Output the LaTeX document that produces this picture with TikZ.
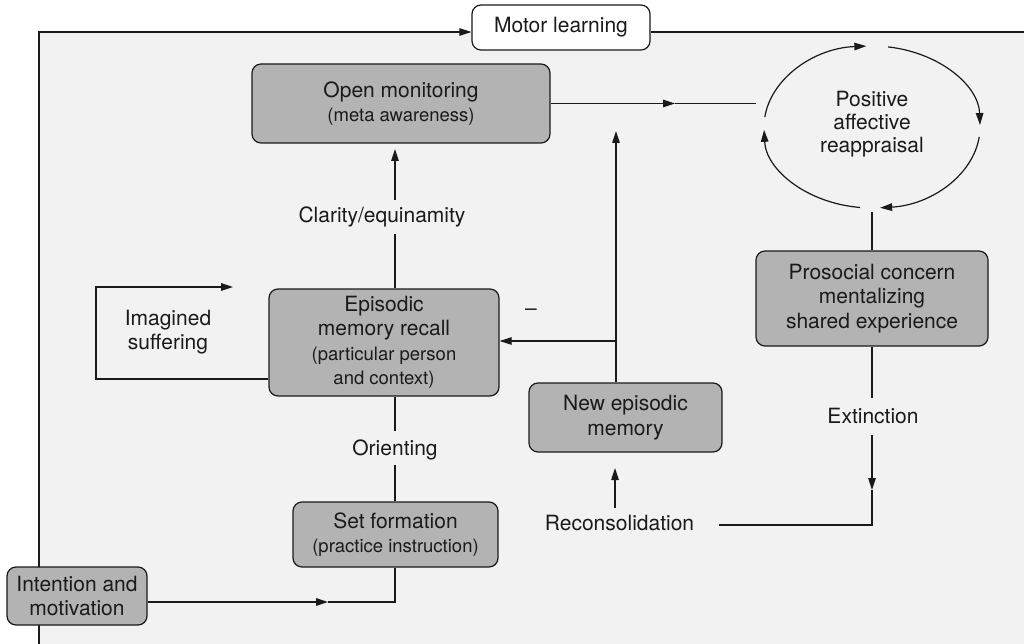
\documentclass[tikz,border=0pt]{standalone}
\usepackage{fontspec}
\setmainfont{TeX Gyre Heros}
\usetikzlibrary{arrows.meta,calc}
\definecolor{bggray}{HTML}{F2F2F2}
\definecolor{boxgray}{HTML}{B3B3B3}
\definecolor{ink}{HTML}{1A1A1A}
\newcommand\smalltxt{\fontsize{18.5}{22}\selectfont}
\tikzset{
  box/.style={draw=ink, line width=1.2pt, fill=boxgray, rounded corners=9pt,
    align=center, inner sep=0pt, text=ink, font=\fontsize{21}{24.5}\selectfont},
  lbl/.style={align=center, inner sep=0pt, text=ink, font=\fontsize{21}{24}\selectfont},
  conn/.style={draw=ink, line width=1.2pt},
  tip/.style={-{Triangle[length=12pt,width=7.5pt]}},
}
\begin{document}
\begin{tikzpicture}[x=1pt,y=-1pt]
\fill[white] (0,0) rectangle (1024,644);
\fill[bggray] (39,32) rectangle (1024,644);
\useasboundingbox (0,0) rectangle (1024,644);

% Motor learning and frame
\node[box, fill=white, minimum width=178pt, minimum height=45pt] (ml) at (561,27.5) {Motor learning};
\coordinate (tl) at (39,32);
\coordinate (bl) at (39,644);
\coordinate (tr) at (1024,32);
\draw[conn,tip] (bl) -- (tl) -- (tl -| ml.west);
\draw[conn] (ml.east |- tl) -- (tr);

% boxes
\node[box, minimum width=298pt, minimum height=79pt] (om) at (401,103.5)
  {Open monitoring\\{\smalltxt (meta awareness)}};
\node[box, minimum width=232pt, minimum height=95pt] (pr) at (872,298.5)
  {Prosocial concern\\mentalizing\\shared experience};
\node[box, minimum width=230pt, minimum height=107pt] (ep) at (384,342.5)
  {Episodic\\memory recall\\{\smalltxt (particular person}\\{\smalltxt and context)}};
\node[box, minimum width=193pt, minimum height=69pt] (ne) at (625.5,417.5)
  {New episodic\\memory};
\node[box, minimum width=205pt, minimum height=65pt] (sf) at (395.5,534.5)
  {Set formation\\{\smalltxt (practice instruction)}};
\node[box, minimum width=140pt, minimum height=58pt] (im) at (77,596)
  {Intention and\\motivation};

% labels
\node[lbl, font=\fontsize{21}{23}\selectfont] (par) at (872,124) {Positive\\affective\\reappraisal};
\node[lbl] (ims) at (168,332) {Imagined\\suffering};
\node[lbl] (cl) at (382,217) {Clarity/equinamity};
\node[lbl] (ori) at (395,450) {Orienting};
\node[lbl] (ext) at (873,416) {Extinction};
\node[lbl] (rec) at (619.5,523) {Reconsolidation};
\node[lbl] (neg) at (531,312) {–};

% open monitoring -> reappraisal
\coordinate (m1) at (675,103.5);
\coordinate (ein) at (756,103.5);
\draw[conn,tip] (om.east) -- (m1);
\draw[conn] (m1) -- (ein);

% reappraisal cycle
\coordinate (a1) at (764.8,117.1);
\coordinate (a2) at (888.0,46.9);
\coordinate (a3) at (979.2,136.9);
\coordinate (a4) at (860.0,207.5);
\draw[conn,tip] (a1) arc[start angle=173, end angle=93, x radius=108pt, y radius=81pt];
\draw[conn,tip] (a2) arc[start angle=81.5, end angle=1.4, x radius=108pt, y radius=81pt];
\draw[conn,tip] (a3) arc[start angle=-7, end angle=-85.7, x radius=108pt, y radius=81pt];
\draw[conn,tip] (a4) arc[start angle=-96.4, end angle=-178, x radius=108pt, y radius=81pt];

% reappraisal -> prosocial -> extinction -> reconsolidation
\coordinate (ebot) at (872,212);
\draw[conn] (ebot) -- (pr.north);
\coordinate (e1) at (872,398);
\coordinate (e2) at (872,435);
\coordinate (e3) at (872,490);
\coordinate (e4) at (872,525);
\coordinate (e5) at (719,525);
\draw[conn] (pr.south) -- (e1);
\draw[conn,tip] (e2) -- (e3);
\draw[conn] (e3) -- (e4) -- (e5);

% reconsolidation -> new episodic memory
\coordinate (r1) at (615,508);
\coordinate (r2) at (615,468);
\draw[conn,tip] (r1) -- (r2);

% new episodic memory -> up, and -> episodic recall
\coordinate (nx) at (616,0);
\coordinate (n2) at (616,131);
\coordinate (n3) at (616,341);
\draw[conn,tip] (ne.north -| nx) -- (n2);
\draw[conn,tip] (n3) -- (n3 -| ep.east);

% episodic recall -> open monitoring
\coordinate (vx) at (395,0);
\coordinate (c1) at (395,234);
\coordinate (c2) at (395,200);
\coordinate (c3) at (395,149);
\draw[conn] (ep.north -| vx) -- (c1);
\draw[conn,tip] (c2) -- (c3);

% orienting
\coordinate (o1) at (395,431);
\coordinate (o2) at (395,465);
\draw[conn] (ep.south -| vx) -- (o1);
\draw[conn] (o2) -- (sf.north -| vx);

% intention -> set formation
\coordinate (j1) at (395,602);
\coordinate (j2) at (328,602);
\draw[conn,tip] (im.east |- j1) -- (j2);
\draw[conn] (j2) -- (j1) -- (sf.south -| vx);

% imagined suffering loop
\coordinate (i1) at (96,379);
\coordinate (i2) at (96,287);
\coordinate (i3) at (233,287);
\draw[conn,tip] (ep.west |- i1) -- (i1) -- (i2) -- (i3);
\end{tikzpicture}
\end{document}
